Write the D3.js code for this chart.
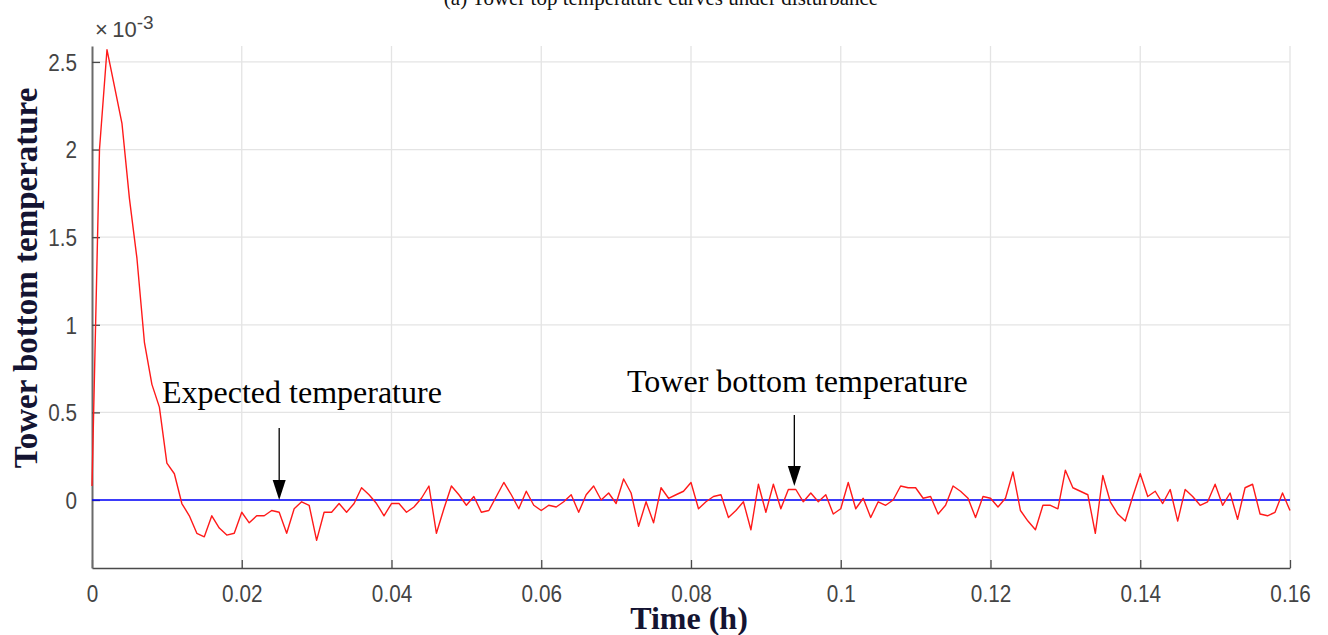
<!DOCTYPE html>
<html><head><meta charset="utf-8">
<script src="https://cdn.jsdelivr.net/npm/d3@7"></script>
<style>
html,body{margin:0;padding:0;background:#fff;}
svg{display:block;}
.tick-label{font-family:"Liberation Sans",Arial,sans-serif;fill:#444;}
.serif{font-family:"Liberation Serif","Times New Roman",serif;}
</style>
</head><body>
<svg id="chart" width="1328" height="635"></svg>
<script>
// ---- data (temperature deviation, ×10^-3) ----
const timeStep = 0.001; // h between samples
const towerBottom = [
 0.08, 2.0, 2.57, 2.36, 2.15, 1.72, 1.38, 0.9, 0.66, 0.53,
 0.21, 0.15, -0.02, -0.09, -0.19, -0.21, -0.09, -0.16, -0.2, -0.19,
 -0.07, -0.13, -0.09, -0.09, -0.06, -0.07, -0.19, -0.05, -0.01, -0.03,
 -0.23, -0.07, -0.07, -0.02, -0.07, -0.02, 0.07, 0.03, -0.02, -0.09,
 -0.02, -0.02, -0.07, -0.04, 0.01, 0.08, -0.19, -0.05, 0.08, 0.03,
 -0.03, 0.02, -0.07, -0.06, 0.02, 0.10, 0.03, -0.05, 0.05, -0.03,
 -0.06, -0.03, -0.04, -0.01, 0.03, -0.07, 0.03, 0.08, 0.0, 0.04,
 -0.02, 0.12, 0.04, -0.15, -0.01, -0.13, 0.07, 0.01, 0.03, 0.05,
 0.10, -0.05, -0.01, 0.02, 0.03, -0.10, -0.06, -0.01, -0.17, 0.09,
 -0.07, 0.09, -0.05, 0.06, 0.06, -0.01, 0.04, -0.01, 0.03, -0.08,
 -0.05, 0.10, -0.05, 0.01, -0.10, -0.01, -0.03, 0.0, 0.08, 0.07,
 0.07, 0.01, 0.02, -0.08, -0.03, 0.08, 0.05, 0.01, -0.10, 0.02,
 0.01, -0.04, 0.01, 0.16, -0.06, -0.12, -0.17, -0.03, -0.03, -0.05,
 0.17, 0.07, 0.05, 0.03, -0.19, 0.14, -0.01, -0.08, -0.12, 0.02,
 0.15, 0.02, 0.05, -0.02, 0.06, -0.12, 0.06, 0.02, -0.03, -0.01,
 0.09, -0.03, 0.04, -0.11, 0.07, 0.09, -0.08, -0.09, -0.07, 0.04,
 -0.06
];
const expectedTimes = [0, 0.16];
const expectedValues = [0, 0];
const xTicks = [0, 0.02, 0.04, 0.06, 0.08, 0.1, 0.12, 0.14, 0.16];
const xTickLabels = ["0", "0.02", "0.04", "0.06", "0.08", "0.1", "0.12", "0.14", "0.16"];
const yTicks = [0, 0.5, 1, 1.5, 2, 2.5];
const yTickLabels = ["0", "0.5", "1", "1.5", "2", "2.5"];

const svg = d3.select("#chart");
const L = 92, R = 1290, T = 46, B = 568;
const x = d3.scaleLinear().domain([0, 0.16]).range([L, R]);
const y = d3.scaleLinear().domain([-0.388, 2.591]).range([B, T]);
const sx = 0.9; // horizontal squeeze for the narrow tick font

// title (cut off at top, as in the source figure)
svg.append("text").attr("class","serif").attr("x", 661).attr("y", 5)
  .attr("text-anchor","middle").attr("font-size", 21).attr("fill","#111")
  .text("(a) Tower top temperature curves under disturbance");

// grid
const g = svg.append("g");
g.selectAll("line.vg").data(xTicks.slice(1)).join("line")
  .attr("x1", d => x(d)).attr("x2", d => x(d)).attr("y1", T).attr("y2", B)
  .attr("stroke", "#e4e4e4").attr("stroke-width", 1.3);
g.selectAll("line.hg").data(yTicks).join("line")
  .attr("x1", L).attr("x2", R).attr("y1", d => y(d)).attr("y2", d => y(d))
  .attr("stroke", "#e4e4e4").attr("stroke-width", 1.3);

// axes (MATLAB-like inward ticks)
const xAxis = d3.axisBottom(x).tickValues(xTicks).tickSizeInner(-8).tickSizeOuter(0)
  .tickFormat((d,i) => xTickLabels[i]);
const xa = svg.append("g").attr("transform", `translate(0,${B})`).call(xAxis);
xa.select(".domain").attr("stroke","#4a4a4a").attr("stroke-width",1.6);
xa.selectAll(".tick line").attr("stroke","#4a4a4a").attr("stroke-width",1.3);
xa.selectAll(".tick text").attr("class","tick-label").attr("font-size",23)
  .attr("dy",0).attr("y",34).attr("transform",`scale(${sx},1)`);

const yAxis = d3.axisLeft(y).tickValues(yTicks).tickSizeInner(-8).tickSizeOuter(0)
  .tickFormat((d,i) => yTickLabels[i]);
const ya = svg.append("g").attr("transform", `translate(${L},0)`).call(yAxis);
ya.select(".domain").attr("stroke","#6a6a6a").attr("stroke-width",2);
ya.selectAll(".tick line").attr("stroke","#4a4a4a").attr("stroke-width",1.3);
ya.selectAll(".tick text").attr("class","tick-label").attr("font-size",23)
  .attr("x",-15/sx).attr("dy","0.36em").attr("transform",`scale(${sx},1)`);

// exponent label
const ex = svg.append("text").attr("class","tick-label").attr("x", 95).attr("y", 37).attr("font-size", 22).attr("fill","#555");
ex.append("tspan").text("\u00d7\u200910");
ex.append("tspan").attr("dy", -8).attr("font-size", 19).text("-3");

// lines
const line = d3.line().x(d => x(d[0])).y(d => y(d[1]));
svg.append("path").datum(expectedTimes.map((t,i)=>[t, expectedValues[i]]))
  .attr("d", line).attr("fill","none").attr("stroke","#0000ff").attr("stroke-width",1.6);
svg.append("path").datum(towerBottom.map((v,i)=>[i*timeStep, v]))
  .attr("d", line).attr("fill","none").attr("stroke","#ff1a1a").attr("stroke-width",1.4)
  .attr("stroke-linejoin","round");

// annotations
function arrow(xp, y1, y2){
  svg.append("line").attr("x1",xp).attr("x2",xp).attr("y1",y1).attr("y2",y2-19)
    .attr("stroke","#000").attr("stroke-width",1.3);
  svg.append("path").attr("d",`M${xp-6.5},${y2-20}L${xp+6.5},${y2-20}L${xp},${y2}Z`).attr("fill","#000");
}
svg.append("text").attr("class","serif").attr("x",162).attr("y",403).attr("font-size",32).attr("fill","#000")
  .text("Expected temperature");
arrow(x(0.025), 428, y(0));
svg.append("text").attr("class","serif").attr("x",627).attr("y",392).attr("font-size",32).attr("fill","#000")
  .text("Tower bottom temperature");
arrow(x(0.0938), 415, y(0.08));

// axis titles
svg.append("text").attr("class","serif").attr("transform","translate(37,278) rotate(-90)")
  .attr("text-anchor","middle").attr("font-size",33).attr("font-weight","bold").attr("fill","#141432")
  .text("Tower bottom temperature");
svg.append("text").attr("class","serif").attr("x",689).attr("y",629)
  .attr("text-anchor","middle").attr("font-size",32).attr("font-weight","bold").attr("fill","#141432")
  .text("Time (h)");
</script>
</body></html>
